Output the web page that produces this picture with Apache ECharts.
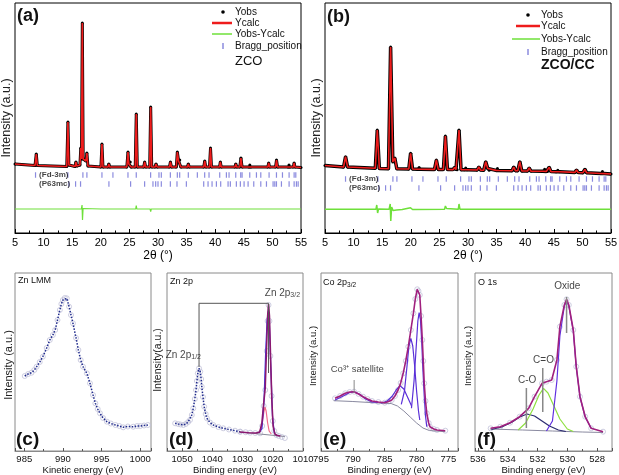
<!DOCTYPE html>
<html><head><meta charset="utf-8">
<script src="https://cdn.jsdelivr.net/npm/echarts@6/dist/echarts.min.js"></script>
<style>html,body{margin:0;padding:0;background:#fff}#c{width:619px;height:475px}</style>
</head><body><div id="c"></div>
<script>
// ---------- XRD (a) ZCO : [2theta, intensity] ----------
const xrdA = [[5,3],[8.5,1.5],[8.72,13],[8.9,1.5],[14.05,0.5],[14.25,45],[14.42,2],[15.5,0.5],[15.65,5],[15.8,1],
 [16.35,2],[16.5,19],[16.62,8],[16.77,144],[16.92,8],[17.4,6],[17.57,14],[17.75,1],[20.02,0],[20.2,23],[20.38,0],
 [21.25,0],[21.4,3],[21.55,0],[24.55,0],[24.75,15],[24.9,3],[25.15,5],[25.3,0],[26.02,0],[26.2,53],[26.38,0],
 [27.5,0],[27.67,5],[27.85,0],[28.55,0],[28.72,60],[28.9,0],[29.5,0],[29.65,3],[29.85,0],[32.0,0],[32.17,5],[32.35,0],
 [33.2,0],[33.38,15],[33.6,6],[33.8,7],[34.0,0],[35.15,0],[35.3,3],[35.45,0],[38.0,0],[38.17,6],[38.35,0],
 [39.0,0],[39.18,19],[39.35,0],[40.75,0],[40.9,5],[41.05,0],[43.45,0],[43.6,3],[43.75,0],[44.3,0],[44.5,9],[44.7,0],
 [45.9,0],[46.05,2],[46.2,0],[49.2,0],[49.35,4],[49.5,0],[50.55,0],[50.72,7],[50.9,0],[52.75,0],[52.9,2],[53.05,0],
 [53.65,0],[53.8,4],[53.95,0],[55,-0.5]];
const xrdA_diff = [[5,-42],[14.1,-42],[14.25,-40],[14.4,-42],[16.6,-42],[16.72,-38],[16.8,-53],[16.9,-41.5],[17.1,-42],
 [20.1,-42],[20.2,-43],[20.3,-42],[26.1,-42],[26.2,-38.5],[26.3,-42],[28.62,-42],[28.72,-44.5],[28.82,-42],
 [33.3,-42],[33.38,-41],[33.5,-42],[39.1,-42],[39.18,-41],[39.3,-42],[55,-42]];
// ---------- XRD (b) ZCO/CC ----------
const xrdB = [[5,4.5],[8.25,3],[8.59,13.3],[8.95,3],[13.8,1.8],[14.14,40],[14.5,1.6],[16.1,1.3],[16.47,123],[16.85,8],
 [17.2,12],[17.55,1.2],[19.65,1],[19.97,16.7],[20.3,1],[21.2,0.8],[21.45,2.5],[21.7,0.8],[24.15,0.6],[24.47,10],[24.8,0.6],
 [25.7,0.5],[26.05,34],[26.4,0.5],[27.4,0.4],[27.65,2.5],[27.9,0.4],[28.1,0.3],[28.43,40],[28.78,0.3],[29.35,0.2],
 [29.6,2],[29.85,0.2],[31.6,0],[31.9,3],[32.2,-0.1],[32.75,-0.2],[33.1,8.3],[33.45,1.5],[33.7,-0.3],[34.9,-0.4],
 [35.15,1.5],[35.4,-0.5],[37.7,-0.7],[38.0,3],[38.3,-0.8],[38.7,-0.8],[39.06,8.3],[39.4,-0.9],[40.4,-1],[40.7,2],
 [41.0,-1.1],[43.1,-1.3],[43.4,0.7],[43.7,-1.4],[43.9,-1.4],[44.2,2.7],[44.5,-1.6],[45.4,-1.7],[45.7,-0.3],[46.0,-1.8],
 [48.7,-2.4],[48.97,0],[49.25,-2.5],[50.1,-2.7],[50.44,0.7],[50.75,-2.8],[53.2,-3.5],[53.5,-1.5],[53.8,-3.6],[55,-4]];
const xrdB_diff = [[5,-39.3],[13.9,-39.3],[14.05,-35],[14.2,-43],[14.35,-39],[16.2,-39.3],[16.4,-34],[16.5,-51],
 [16.65,-37],[16.9,-40.5],[17.5,-40],[18.5,-39.6],[19.95,-37.7],[20.3,-39.5],[25.9,-39.3],[26.05,-36],[26.25,-38.5],
 [26.5,-39.3],[28.3,-39.3],[28.43,-34],[28.6,-39.3],[32.9,-39.3],[33.1,-37.8],[33.3,-39.3],[38.9,-39.3],[39.06,-38.3],
 [39.2,-39.3],[55,-39.3]];
// Bragg positions (2theta)
const braggFd3m = [8.59,14.25,16.87,17.57,20.2,22.12,24.75,26.2,28.71,30.17,30.58,32.16,33.38,33.79,35.3,36.88,38.16,
 38.92,40.79,41.96,42.42,43.59,44.46,44.7,46.04,47.21,47.97,49.42,50.71,51.76,52.92,53.8,54.09];
const braggP63mc = [14.42,15.59,16.46,21.42,25.21,27.66,29.12,29.59,30.0,30.58,32.16,33.32,34.96,37.99,38.75,39.45,
 40.21,40.96,42.25,42.65,43.7,44.4,45.05,45.75,46.74,47.97,48.96,50.12,50.42,50.71,51.58,52.92,53.8,54.2,54.5];
// ---------- (c) Zn LMM ----------
const znLMM = [[985.06,75],[985.5,77],[985.94,78.3],[986.3,81],[986.6,84.3],[987,89],[987.4,94.3],[987.9,103],[988.3,111],
 [988.7,116],[989.0,121],[989.3,131],[989.6,141],[989.8,147],[990.0,151],[990.25,153],[990.5,152.7],[990.8,144.3],
 [991.05,136],[991.3,127.7],[991.7,113],[992.0,101],[992.3,91],[992.6,84.3],[993.1,77.7],[993.5,67.7],[993.9,56],
 [994.2,47.7],[994.5,42],[994.8,37.7],[995.2,33],[995.7,29.3],[996.2,27.5],[996.8,26],[997.3,25],[997.8,23.7],
 [998.4,24.5],[999.1,24.3],[999.6,25],[1000.0,25],[1000.5,25.5],[1001.0,26]];
// ---------- (d) Zn 2p ----------
const zn2p = [[1052.3,27.7],[1051.3,27],[1050.5,26.5],[1049.6,26],[1048.8,27],[1048,29],[1047.4,31],[1046.8,36],
 [1046.3,42.7],[1045.8,52],[1045.4,61],[1045.1,70],[1044.8,77.7],[1044.4,82.7],[1044.0,79.3],[1043.7,72],[1043.5,64.3],
 [1043.1,54],[1042.7,44.3],[1042.2,37],[1041.8,32.7],[1040.8,28.5],[1039.7,26],[1038,24],[1036.4,22.7],[1034.5,21.5],
 [1032.5,20.3],[1030.8,19.3]];
const zn2pFitData = [[1030.8,19.3],[1029,18.8],[1027.5,18.3],[1025.8,18],[1024.2,17.7],[1023.5,25],[1023,45],[1022.5,61],
 [1022,100],[1021.7,130],[1021.4,146],[1021.1,130],[1020.8,95],[1020.4,55],[1020,30],[1019.5,20],[1018.8,16],[1018,15],
 [1017,14],[1016,13]];
const zn2pEnv = [[1031,19],[1028,18.3],[1025.5,18],[1024.3,19],[1023.6,28],[1023,48],[1022.5,63],[1022.1,100],[1021.7,135],
 [1021.4,147],[1021.1,135],[1020.7,90],[1020.3,50],[1019.9,25],[1019.3,17],[1018.5,15.5],[1017.5,15]];
const zn2pCompBlue = [[1024.6,18],[1023.6,22],[1022.9,50],[1022.4,95],[1021.9,130],[1021.5,140],[1021.1,125],[1020.6,80],
 [1020.1,35],[1019.5,18]];
const zn2pCompPink = [[1024.5,18],[1023.6,25],[1023.0,38],[1022.6,44],[1022.2,40],[1021.7,28],[1021.2,20],[1020.5,17]];
const zn2pBase = [[1031,19],[1016,14.5]];
const zn2pBracket = [[1044.4,84],[1044.4,147.7],[1021.4,147.7],[1021.4,78]];
// ---------- (e) Co 2p3/2 ----------
const coEnv = [[792.8,52.7],[792,55],[791.2,57.7],[790.5,59],[789.8,59.3],[789.1,57],[788.4,54.3],[787.7,52],[787.0,50],
 [786,49],[785.0,48.3],[784.4,49.5],[783.9,51],[783.4,55],[782.9,61],[782.5,68],[782.1,77.7],[781.7,90],[781.3,104.3],
 [780.9,121],[780.5,137.7],[780.2,152],[779.9,161.7],[779.7,160],[779.5,156],[779.3,135],[779.1,111],[778.95,90],
 [778.8,67.7],[778.6,50],[778.4,37.7],[778.1,28],[777.9,24.3],[777.3,22],[776.8,21],[775.5,20.3]];
const coSat = [[792.8,51],[791.5,55],[790.5,58.5],[789.8,59.3],[789,57],[788,52],[787,49],[786,48.5]];
const coC1 = [[785.6,47.7],[784.6,50],[783.8,55],[783.2,61],[782.6,65.3],[782.0,62],[781.5,55],[780.8,45.3]];
const coC2 = [[782.4,46.7],[781.9,60],[781.5,85],[781.2,105],[780.9,112.7],[780.6,105],[780.3,85],[780.0,60],[779.7,40],[779.5,31]];
const coC3 = [[780.8,42.7],[780.4,70],[780.0,110],[779.8,130],[779.6,138.3],[779.4,132],[779.2,110],[779.0,80],[778.8,55],
 [778.6,35],[778.4,24.3]];
const coBase = [[793,50.3],[790,49.5],[786,48],[784,47.5],[783,45],[782,40],[781,34],[780,28],[779,23],[778,20.5],[775.5,19.3]];
const coSatMark = [[789.8,58],[789.8,71]];
// ---------- (f) O 1s ----------
const oEnv = [[535.15,22.7],[534.5,24.3],[533.85,28.3],[533.2,34.3],[532.6,42.7],[532.2,54.3],[531.7,67.7],[531.4,69.3],
 [531.05,71],[530.7,91],[530.5,124.3],[530.2,146],[530.05,151.7],[529.9,146],[529.6,121],[529.4,84.3],[529.15,54.3],
 [528.8,34.3],[528.4,22.7],[527.6,19.3]];
const oOxide = [[531.4,20],[531.0,30],[530.7,70],[530.5,115],[530.2,145],[530.05,150],[529.9,145],[529.6,120],[529.4,84],
 [529.15,54],[528.8,34],[528.4,22.7]];
const oCdO = [[533.3,21],[532.8,28],[532.3,42],[531.9,56],[531.6,62.7],[531.3,58],[530.9,45],[530.5,32],[530.0,22],[529.6,19.5]];
const oCO = [[535.1,21.5],[534.4,24],[533.7,29],[533.2,34],[532.7,37],[532.2,35],[531.7,30],[531.2,25],[530.6,21],[530.1,19.5]];
const oBase = [[535.2,22],[533,21],[531,20],[529,19],[527.6,18.5]];
const oMarkOxide = [[530.05,118],[530.05,154]];
const oMarkCdO = [[531.65,39],[531.65,83]];
const oMarkCO = [[532.75,23],[532.75,63]];

const FF = "'Liberation Sans', Arial, sans-serif";
const chart = echarts.init(document.getElementById('c'), null, {renderer:'canvas'});
const plain = v => String(Math.round(v*100)/100);

function gridBox(l,t,w,h,col){return {left:l,top:t,width:w,height:h,show:true,borderColor:col,borderWidth:1,
  backgroundColor:'transparent',containLabel:false,outerBoundsMode:'none'};}
function topX(i){return {gridIndex:i,type:'value',min:5,max:55,interval:5,
  axisLine:{show:true,onZero:false,lineStyle:{color:'#000',width:1}},
  axisTick:{show:true,inside:true,length:4,lineStyle:{color:'#000'}},
  minorTick:{show:true,splitNumber:2,length:2.5,lineStyle:{color:'#000'}},
  splitLine:{show:false},axisLabel:{fontSize:11,color:'#000',margin:4,fontFamily:FF,formatter:plain},
  name:'2θ (°)',nameLocation:'middle',nameGap:17,nameTextStyle:{fontSize:12,color:'#000',fontFamily:FF}};}
function botLabel(minL,maxL){return {fontSize:9.5,color:'#111',margin:3,fontFamily:FF,showMinLabel:minL,showMaxLabel:maxL,formatter:plain};}
function botX(i,min,max,name,extra){return Object.assign({gridIndex:i,type:'value',min:min,max:max,splitNumber:4,
  axisLine:{show:true,onZero:false,lineStyle:{color:'#8a8a8a'}},
  axisTick:{show:true,inside:true,length:3,lineStyle:{color:'#555'}},
  minorTick:{show:true,splitNumber:2,length:2,lineStyle:{color:'#555'}},
  splitLine:{show:false},axisLabel:botLabel(false,false),
  name:name,nameLocation:'middle',nameGap:11,nameTextStyle:{fontSize:9.5,color:'#111',fontFamily:FF}},extra||{});}
function yAx(i,min,max){return {gridIndex:i,type:'value',min:min,max:max,show:false};}

function line(ax,data,color,width,extra){return Object.assign({type:'line',xAxisIndex:ax,yAxisIndex:ax,data:data,
  symbol:'none',silent:true,animation:false,lineStyle:{color:color,width:width}},extra||{});}
function ticks(ax,xs,level){return {type:'scatter',xAxisIndex:ax,yAxisIndex:ax,silent:true,animation:false,
  data:xs.map(x=>[x,level]),symbol:'rect',symbolSize:[1.2,5.5],itemStyle:{color:'#6e6ed6'}};}
function circles(ax,data){return {type:'scatter',xAxisIndex:ax,yAxisIndex:ax,silent:true,animation:false,data:data,
  symbol:'circle',symbolSize:5,z:1,itemStyle:{color:'rgba(255,255,255,0)',borderColor:'#c2c2da',borderWidth:1}};}
const richSub = {s:{fontSize:7,fontFamily:FF,color:'#111',verticalAlign:'bottom',lineHeight:8,padding:[5,0,0,0]},
                 n:{fontSize:10,fontFamily:FF,color:'#111'}};
function texts(ax,items,pos,fs,bold){return {type:'scatter',xAxisIndex:ax,yAxisIndex:ax,silent:true,animation:false,z:10,
  symbol:'circle',symbolSize:1,itemStyle:{color:'rgba(0,0,0,0)'},
  data:items.map(it=>({value:[it[0],it[1]],label:{formatter:it[2]}})),
  label:{show:true,position:pos,distance:1,fontSize:fs,fontWeight:bold?'bold':'normal',color:'#111',fontFamily:FF,rich:richSub}};}

const series = [
  // (a)
  line(0,xrdA,'#000',3,{symbol:'circle',symbolSize:3,showAllSymbol:true,itemStyle:{color:'#000'},z:2}),
  line(0,xrdA,'#ee1c1c',1.6,{z:3}),
  line(0,xrdA_diff,'#6ee03a',1.2),
  ticks(0,braggFd3m,-8), ticks(0,braggP63mc,-17),
  texts(0,[[8.95,-8,'(Fd-3m)'],[8.95,-17,'(P63mc)']],'right',8,true),
  // (b)
  line(1,xrdB,'#000',3.5,{symbol:'circle',symbolSize:3,showAllSymbol:true,itemStyle:{color:'#000'},z:2}),
  line(1,xrdB,'#ee1c1c',1.6,{z:3}),
  line(1,xrdB_diff,'#6ee03a',1.5),
  ticks(1,braggFd3m,-9), ticks(1,braggP63mc,-18),
  texts(1,[[8.95,-9,'(Fd-3m)'],[8.95,-18,'(P63mc)']],'right',8,true),
  // (c)
  circles(2,znLMM),
  line(2,znLMM,'#1f2a8c',1.5,{lineStyle:{color:'#1f2a8c',width:1.5,type:'dotted'},z:2}),
  // (d)
  circles(3,zn2p), circles(3,zn2pFitData),
  line(3,zn2p,'#1f2a8c',1.5,{lineStyle:{color:'#1f2a8c',width:1.5,type:'dotted'},z:2}),
  line(3,zn2pBase,'#8a8a9a',1),
  line(3,zn2pCompPink,'#f06a8a',1.2,{z:3}),
  line(3,zn2pCompBlue,'#3535f0',1.2,{z:3}),
  line(3,zn2pEnv,'#8a1870',1.6,{z:4}),
  line(3,zn2pBracket,'#555',1,{z:5}),
  texts(3,[[1049.6,89,'{n|Zn 2p}{s|1/2}'],[1016.8,151,'{n|Zn 2p}{s|3/2}']],'top',10,false),
  // (e)
  circles(4,coEnv),
  line(4,coBase,'#8a8aa0',1),
  line(4,coSat,'#5a30d8',1.2,{z:3}),
  line(4,coC1,'#5a30d8',1.2,{z:3}),
  line(4,coC2,'#5a30d8',1.2,{z:3}),
  line(4,coC3,'#5a30d8',1.2,{z:3}),
  line(4,coEnv,'#a0207e',1.6,{z:4}),
  line(4,coSatMark,'#888',1,{z:5}),
  texts(4,[[789.3,75,'Co³⁺ satellite']],'top',9.5,false),
  // (f)
  circles(5,oEnv),
  line(5,oBase,'#8a8aa0',1),
  line(5,oCO,'#2a2a70',1.2,{z:3}),
  line(5,oCdO,'#8ee040',1.2,{z:3}),
  line(5,oOxide,'#6030e0',1.2,{z:3}),
  line(5,oEnv,'#a0207e',1.6,{z:4}),
  line(5,oMarkOxide,'#888',1.5,{z:5}), line(5,oMarkCdO,'#888',1.5,{z:5}), line(5,oMarkCO,'#888',1.5,{z:5}),
  texts(5,[[530.0,158,'Oxide'],[531.6,84,'C=O'],[532.7,64,'C-O']],'top',10,false)
];

function txt(x,y,s,font,extra){return Object.assign({type:'text',x:x,y:y,silent:true,z:100,
  style:{text:s,font:font,fill:'#111',align:'left',verticalAlign:'middle'}},extra||{});}
function rot(x,y,s,font){return {type:'text',x:x,y:y,rotation:Math.PI/2,silent:true,z:100,
  style:{text:s,font:font,fill:'#222',align:'center',verticalAlign:'middle'}};}
const LF = '10px '+FF;
const graphic = [
  txt(17,16,'(a)','bold 18px '+FF), txt(327,17,'(b)','bold 18px '+FF),
  rot(7,118,'Intensity (a.u.)','12.5px '+FF), rot(317,118,'Intensity (a.u.)','12.5px '+FF),
  // legend (a)
  {type:'circle',shape:{cx:223,cy:12,r:1.8},style:{fill:'#000'},silent:true,z:100},
  txt(235,12,'Yobs',LF),
  {type:'line',shape:{x1:212,y1:23,x2:232,y2:23},style:{stroke:'#ee1c1c',lineWidth:2.5},silent:true,z:100},
  txt(235,23,'Ycalc',LF),
  {type:'line',shape:{x1:212,y1:34,x2:232,y2:34},style:{stroke:'#6ee03a',lineWidth:1.5},silent:true,z:100},
  txt(235,34,'Yobs-Ycalc',LF),
  {type:'rect',shape:{x:222.4,y:43,width:1.2,height:6},style:{fill:'#6e6ed6'},silent:true,z:100},
  txt(235,46,'Bragg_position',LF),
  txt(235,61,'ZCO','13px '+FF),
  // legend (b)
  {type:'circle',shape:{cx:528,cy:15,r:1.8},style:{fill:'#000'},silent:true,z:100},
  txt(541,15,'Yobs',LF),
  {type:'line',shape:{x1:516,y1:26,x2:540,y2:26},style:{stroke:'#ee1c1c',lineWidth:2.5},silent:true,z:100},
  txt(541,26,'Ycalc',LF),
  {type:'line',shape:{x1:512,y1:39,x2:540,y2:39},style:{stroke:'#6ee03a',lineWidth:1.5},silent:true,z:100},
  txt(541,39,'Yobs-Ycalc',LF),
  {type:'rect',shape:{x:527.4,y:49,width:1.2,height:6},style:{fill:'#6e6ed6'},silent:true,z:100},
  txt(541,52,'Bragg_position',LF),
  txt(541,65,'ZCO/CC','bold 14px '+FF),
  // bottom panels
  txt(18,281,'Zn LMM','9px '+FF), txt(170,282,'Zn 2p','9px '+FF), txt(478,283,'O 1s','9px '+FF),
  {type:'text',x:323,y:283,silent:true,z:100,style:{text:'{n|Co 2p}{s|3/2}',verticalAlign:'middle',
     rich:{n:{fontSize:9,fontFamily:FF,fill:'#111'},s:{fontSize:6.5,fontFamily:FF,fill:'#111',padding:[4,0,0,0]}}}},
  txt(16,440,'(c)','bold 19px '+FF), txt(169,440,'(d)','bold 19px '+FF),
  txt(323,440,'(e)','bold 19px '+FF), txt(477,440,'(f)','bold 19px '+FF),
  rot(9,365,'Intensity (a.u.)','11px '+FF), rot(158,360,'Intensity(a.u.)','10.5px '+FF),
  rot(313,356,'Intensity (a.u.)','9.5px '+FF), rot(468,356,'Intensity (a.u.)','9.5px '+FF)
];

chart.setOption({
  animation:false,
  backgroundColor:'#fff',
  textStyle:{fontFamily:FF},
  grid:[gridBox(15,3,286,230,'#000'),gridBox(325,3,286,230,'#000'),
        gridBox(15,273,136,178,'#8a8a8a'),gridBox(167,273,136,178,'#8a8a8a'),
        gridBox(321,273,137,178,'#8a8a8a'),gridBox(475,273,137,178,'#8a8a8a')],
  xAxis:[topX(0),topX(1),
    botX(2,983.8,1001.4,'Kinetic energy (eV)'),
    botX(3,1010,1055,'Binding energy (eV)',{inverse:true,interval:10,axisLabel:botLabel(true,false)}),
    botX(4,773.5,795,'Binding energy (eV)',{inverse:true,axisLabel:botLabel(false,true)}),
    botX(5,527,536.2,'Binding energy (eV)',{inverse:true})],
  yAxis:[yAx(0,-66,164),yAx(1,-63,167),yAx(2,0,178),yAx(3,0,178),yAx(4,0,178),yAx(5,0,178)],
  series:series,
  graphic:graphic
});
</script></body></html>
